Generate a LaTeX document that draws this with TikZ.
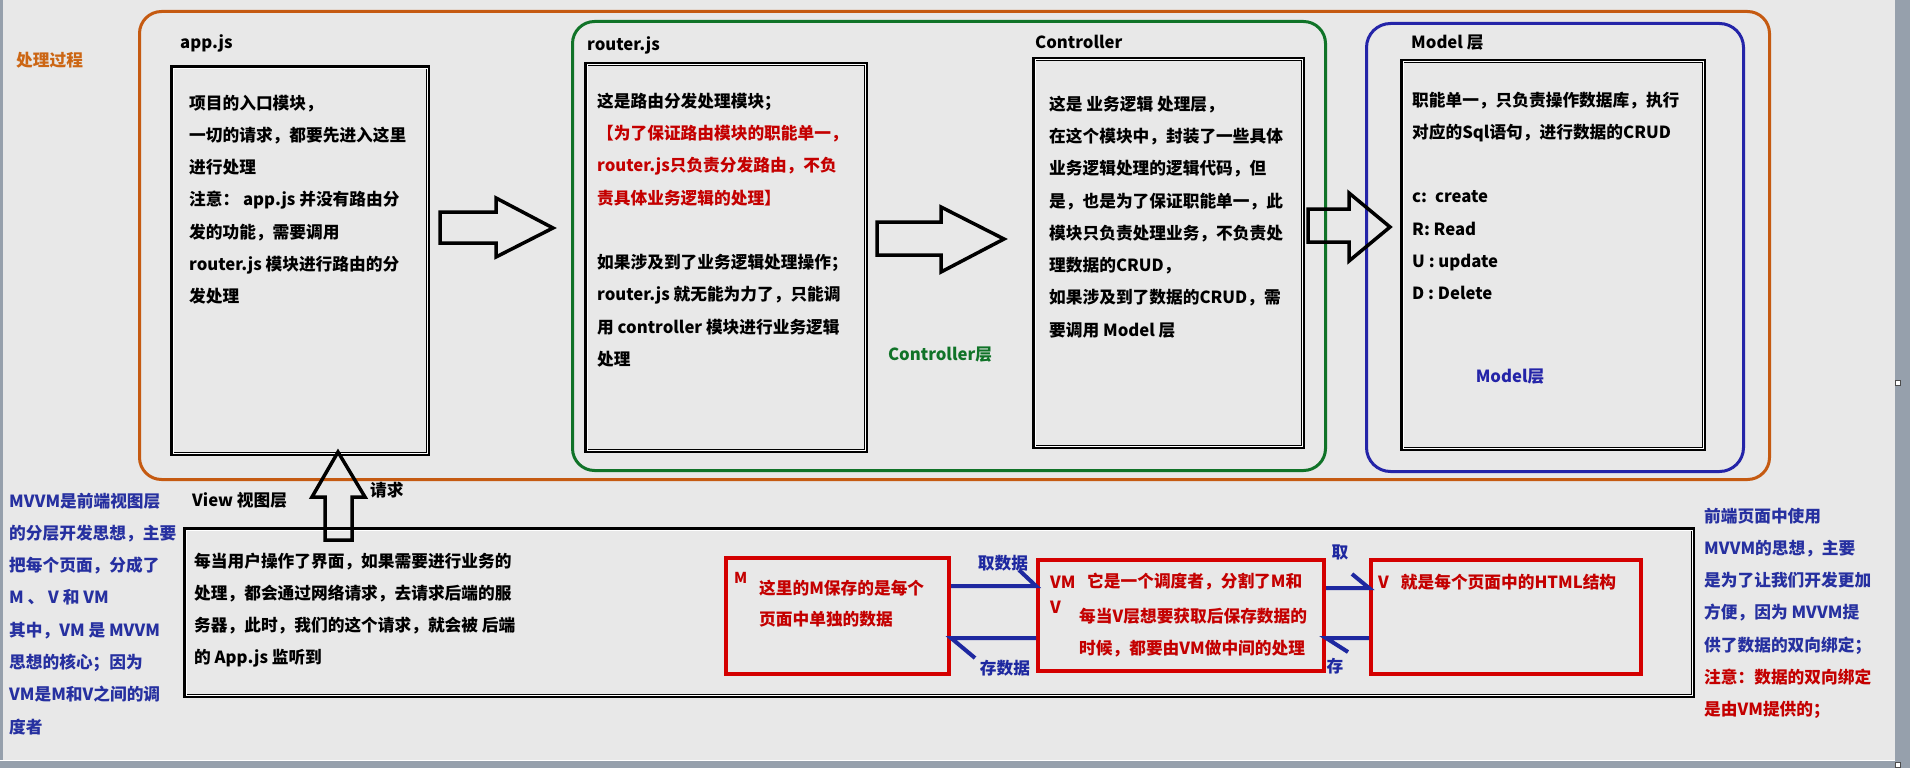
\documentclass[tikz,border=0pt]{standalone}
\usepackage{fontspec}
\setmainfont{Noto Sans CJK SC}
\definecolor{bg}{RGB}{232,232,232}
\definecolor{orangeline}{RGB}{197,90,17}
\definecolor{greenline}{RGB}{16,115,40}
\definecolor{blueline}{RGB}{36,36,168}
\definecolor{redline}{RGB}{212,0,0}
\definecolor{redtext}{RGB}{196,0,0}
\definecolor{bluetext}{RGB}{38,48,160}
\definecolor{orangetext}{RGB}{204,102,20}
\definecolor{linkblue}{RGB}{30,40,160}
\definecolor{strip}{RGB}{150,160,172}
\tikzset{
  frame/.style={draw, rounded corners=22pt, line width=3pt, anchor=north west, inner sep=0pt},
  blackbox/.style={draw=black, line width=4pt, anchor=north west, inner sep=0pt},
  redbox/.style={draw=redline, line width=4pt, anchor=north west, inner sep=0pt},
  innerline/.style={draw=white, line width=1pt},
  hollow/.style={draw=black, line width=3.5pt, line join=miter},
  link/.style={draw=linkblue, line width=4pt},
  txt/.style={font=\fontsize{16.7}{32.3}\selectfont\bfseries, inner sep=0pt, align=left},
  lbl/.style={txt, anchor=west},
  para/.style={txt, anchor=north west},
}
\begin{document}
\begin{tikzpicture}[x=1pt,y=-1pt]
\useasboundingbox (0,0) rectangle (1910,768);
\fill[bg] (0,0) rectangle (1910,768);
\fill[strip] (0,0) rectangle (3,768);
\fill[strip] (0,760) rectangle (1910,768);
\fill[strip] (1895,0) rectangle (1910,768);
\draw[white, line width=1pt] (0,760.5) -- (1895,760.5);
\draw[black!70, fill=white, line width=0.8pt] (1895,380) rectangle (1900,385);
\draw[black!70, fill=white, line width=0.8pt] (1895,762) rectangle (1900,767);

% big frames
\node[frame, draw=orangeline, minimum width=1630pt, minimum height=468pt] (outer) at (138,10) {};
\node[frame, draw=greenline, minimum width=753pt, minimum height=449pt] (ctrlframe) at (571,20) {};
\node[frame, draw=blueline, rounded corners=24pt, minimum width=377pt, minimum height=448pt] (modelframe) at (1365,22) {};

% black boxes
\node[blackbox, minimum width=256pt, minimum height=387pt] (app) at (170,65) {};
\node[blackbox, minimum width=280pt, minimum height=387pt] (router) at (584,62) {};
\node[blackbox, minimum width=269pt, minimum height=388pt] (ctrl) at (1032,57) {};
\node[blackbox, minimum width=302pt, minimum height=388pt] (model) at (1400,59) {};
\node[blackbox, minimum width=1508pt, minimum height=167pt] (view) at (183,527) {};
\foreach \n in {app,router,ctrl,model,view}
  \draw[innerline] ([shift={(3,3)}]\n.north west) rectangle ([shift={(-3,-3)}]\n.south east);

% red boxes
\node[redbox, minimum width=223pt, minimum height=116pt] (M) at (724,556) {};
\node[redbox, minimum width=286pt, minimum height=111pt] (VM) at (1036,558) {};
\node[redbox, minimum width=270pt, minimum height=114pt] (V) at (1369,558) {};

% hollow arrows
\draw[hollow] (440,212) -- (496,212) -- (496,198) -- (553,228) -- (496,257) -- (496,243) -- (440,243) -- cycle;
\draw[hollow] (877,222) -- (941,222) -- (941,207) -- (1004,239) -- (941,272) -- (941,255) -- (877,255) -- cycle;
\draw[hollow] (1308,209) -- (1349,209) -- (1349,193) -- (1390,227) -- (1349,261) -- (1349,242) -- (1308,242) -- cycle;
\draw[hollow] (325,540) -- (325,497) -- (312,497) -- (338,452) -- (365,497) -- (352,497) -- (352,540) -- cycle;

% blue connectors
\draw[link] (M.east |- 0,586) -- (VM.west |- 0,586) coordinate (c1) -- ++(-17,-16);
\draw[link] (VM.west |- 0,638) -- (M.east |- 0,638) coordinate (c2) -- ++(24,20);
\draw[link] (VM.east |- 0,588) -- (V.west |- 0,588) coordinate (c3) -- ++(-17,-14);
\draw[link] (V.west |- 0,638) -- (VM.east |- 0,638) coordinate (c4) -- ++(22,14);

% labels
\node[lbl, text=orangetext] (proc) at (16,60) {处理过程};
\node[lbl] (applbl) at (180,43) {app.js};
\node[lbl] (routerlbl) at (587,45) {router.js};
\node[lbl] (ctrllbl) at (1035,42) {Controller};
\node[lbl] (modellbl) at (1411,43) {Model 层};
\node[txt, text=greenline] (ctrllayer) at (940,355) {Controller层};
\node[txt, text=blueline] (modellayer) at (1510,377) {Model层};
\node[lbl] (req) at (370,490) {请求};
\node[lbl] (viewlbl) at (192,500) {View 视图层};

% box texts
\node[para] (apptxt) at (189,94.5) {项目的入口模块，\\
一切的请求，都要先进入这里\\
进行处理\\
注意： app.js 并没有路由分\\
发的功能，需要调用\\
router.js 模块进行路由的分\\
发处理};

\node[para] (routertxt) at (597,92.5) {这是路由分发处理模块；\\
\textcolor{redtext}{【为了保证路由模块的职能单一，}\\
\textcolor{redtext}{router.js只负责分发路由，不负}\\
\textcolor{redtext}{责具体业务逻辑的处理】}\\[32.3pt]
如果涉及到了业务逻辑处理操作；\\
router.js 就无能为力了，只能调\\
用 controller 模块进行业务逻辑\\
处理};

\node[para] (ctrltxt) at (1049,95.5) {这是 业务逻辑 处理层，\\
在这个模块中，封装了一些具体\\
业务逻辑处理的逻辑代码，但\\
是，也是为了保证职能单一，此\\
模块只负责处理业务，不负责处\\
理数据的CRUD，\\
如果涉及到了数据的CRUD，需\\
要调用 Model 层};

\node[para] (modeltxt) at (1412,91.5) {职能单一，只负责操作数据库，执行\\
对应的Sql语句，进行数据的CRUD\\[32.3pt]
c:\hspace{8pt}create\\
R: Read\\
U : update\\
D : Delete};

\node[para] (viewtxt) at (194,552.5) {每当用户操作了界面，如果需要进行业务的\\
处理，都会通过网络请求，去请求后端的服\\
务器，此时，我们的这个请求，就会被 后端\\
的 App.js 监听到};

% MVVM boxes texts
\node[lbl, text=redtext, font=\fontsize{15}{18}\selectfont\bfseries] (Mlbl) at (734,578) {M};
\node[para, text=redtext, font=\fontsize{16.7}{31}\selectfont\bfseries] (Mtxt) at (759,579.5) {这里的M保存的是每个\\
页面中单独的数据};
\node[lbl, text=redtext] (VMlbl) at (1050,582) {VM};
\node[lbl, text=redtext] (VMv) at (1050,607) {V};
\node[lbl, text=redtext] (VMtxt1) at (1087,582) {它是一个调度者，分割了M和};
\node[para, text=redtext] (VMtxt2) at (1079,607.5) {每当V层想要获取后保存数据的\\
时候，都要由VM做中间的处理};
\node[lbl, text=redtext] (Vtxt) at (1378,582) {V\hspace{12pt}就是每个页面中的HTML结构};

\node[txt, text=linkblue] (get1) at (1003,563) {取数据};
\node[txt, text=linkblue] (put1) at (1005,668) {存数据};
\node[txt, text=linkblue] (get2) at (1340,552) {取};
\node[txt, text=linkblue] (put2) at (1335,666) {存};

% side texts
\node[para, text=bluetext] (lefttxt) at (9,492.5) {MVVM是前端视图层\\
的分层开发思想，主要\\
把每个页面，分成了\\
M 、 V 和 VM\\
其中，VM 是 MVVM\\
思想的核心；因为\\
VM是M和V之间的调\\
度者};

\node[para, text=bluetext] (righttxt) at (1704,507.5) {前端页面中使用\\
MVVM的思想，主要\\
是为了让我们开发更加\\
方便，因为 MVVM提\\
供了数据的双向绑定；\\
\textcolor{redtext}{注意：数据的双向绑定}\\
\textcolor{redtext}{是由VM提供的；}};
\end{tikzpicture}
\end{document}
